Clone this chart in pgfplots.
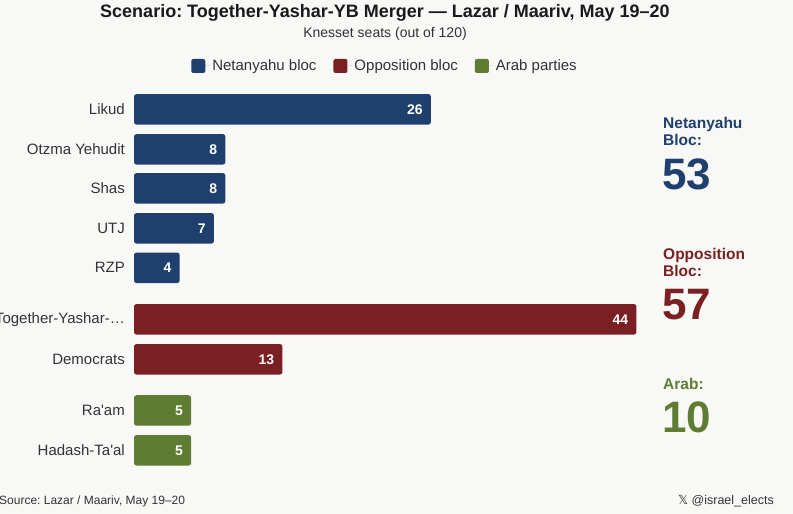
\documentclass[border=0pt]{standalone}
\usepackage{pgfplots}
\pgfplotsset{compat=1.18}
\usepackage{fontspec}
\setmainfont{Liberation Sans}
\newfontfamily\dejavu{DejaVu Sans}
\definecolor{navy}{HTML}{1F3F6E}
\definecolor{oppred}{HTML}{7B2022}
\definecolor{arabgreen}{HTML}{5E7D32}
\definecolor{bg}{HTML}{F8F8F6}
\definecolor{txt}{HTML}{333333}
\definecolor{ttl}{HTML}{1A1A1A}
\frenchspacing
\begin{document}
\begin{tikzpicture}[x=1pt,y=1pt]
\fill[bg] (0,0) rectangle (793,514);
\useasboundingbox (0,0) rectangle (793,514);
\begin{axis}[
  at={(0,0)}, anchor=south west,
  scale only axis, width=793pt, height=514pt,
  xmin=-11.734, xmax=57.706, ymin=-514, ymax=0,
  axis line style={draw=none},
  xtick=\empty,
  major tick length=0pt,
  ytick={-109.3,-149.3,-188.3,-228.3,-267.8,-319.3,-359.3,-410.5,-450.3},
  yticklabels={Likud,Otzma Yehudit,Shas,UTJ,RZP,Together-Yashar-…,Democrats,Ra\textquotesingle am,Hadash-Ta\textquotesingle al},
  yticklabel style={anchor=east, xshift=125pt, inner sep=0pt, font=\fontsize{15}{17}\selectfont, text=txt},
  xbar, bar width=30.5,
  every axis plot/.append style={bar shift=0pt, draw=none},
  /pgf/number format/assume math mode=true,
  nodes near coords,
  nodes near coords style={anchor=east, xshift=-8pt, inner sep=0pt, text=white, font=\bfseries\fontsize{14}{16}\selectfont},
  clip=false,
  legend columns=3,
  legend style={at={(rel axis cs:0.4855,0.8716)}, anchor=center, draw=none, fill=none,
    font=\fontsize{15}{17}\selectfont, text=txt,
    /tikz/every even column/.append style={column sep=15pt}},
  legend image code/.code={\fill[#1, rounded corners=2pt] (0pt,-7pt) rectangle (14pt,7pt); \path (0pt,0pt) -- (19pt,0pt);},
]
\addplot[fill=navy, rounded corners=2.5pt] coordinates {(26,-109.3) (8,-149.3) (8,-188.3) (7,-228.3) (4,-267.8)};
\addlegendentry{Netanyahu bloc}
\addplot[fill=oppred, rounded corners=2.5pt] coordinates {(44,-319.3) (13,-359.3)};
\addlegendentry{Opposition bloc}
\addplot[fill=arabgreen, rounded corners=2.5pt] coordinates {(5,-410.5) (5,-450.3)};
\addlegendentry{Arab parties}
\end{axis}
% titles
\node[anchor=base, text=ttl, font=\bfseries\fontsize{18}{20}\selectfont, inner sep=0pt] at (385,{514-17.3}) {Scenario: Together-Yashar-YB Merger — Lazar / Maariv, May 19–20};
\node[anchor=base, text=txt, font=\fontsize{14}{16}\selectfont, inner sep=0pt] at (385,{514-37.5}) {Knesset seats (out of 120)};
% bloc totals
\begin{scope}[every node/.style={anchor=base west, inner sep=0pt}]
\node[text=navy, font=\bfseries\fontsize{15.5}{17}\selectfont] at (663,{514-128.3}) {Netanyahu};
\node[text=navy, font=\bfseries\fontsize{15.5}{17}\selectfont] at (663,{514-145.7}) {Bloc:};
\node[text=navy, font=\bfseries\fontsize{44}{48}\selectfont] at (662,{514-190}) {53};
\node[text=oppred, font=\bfseries\fontsize{15.5}{17}\selectfont] at (663,{514-260}) {Opposition};
\node[text=oppred, font=\bfseries\fontsize{15.5}{17}\selectfont] at (663,{514-276.7}) {Bloc:};
\node[text=oppred, font=\bfseries\fontsize{44}{48}\selectfont] at (662,{514-320}) {57};
\node[text=arabgreen, font=\bfseries\fontsize{15.5}{17}\selectfont] at (663,{514-390}) {Arab:};
\node[text=arabgreen, font=\bfseries\fontsize{44}{48}\selectfont] at (662,{514-433}) {10};
\end{scope}
% footer
\node[anchor=base west, inner sep=0pt, text=txt, font=\fontsize{12}{14}\selectfont] at (-1,9) {Source: Lazar / Maariv, May 19–20};
\node[anchor=base east, inner sep=0pt, text=txt, font=\fontsize{12.5}{15}\selectfont] at (774,9) {{\dejavu 𝕏} @israel\_elects};
\end{tikzpicture}
\end{document}
